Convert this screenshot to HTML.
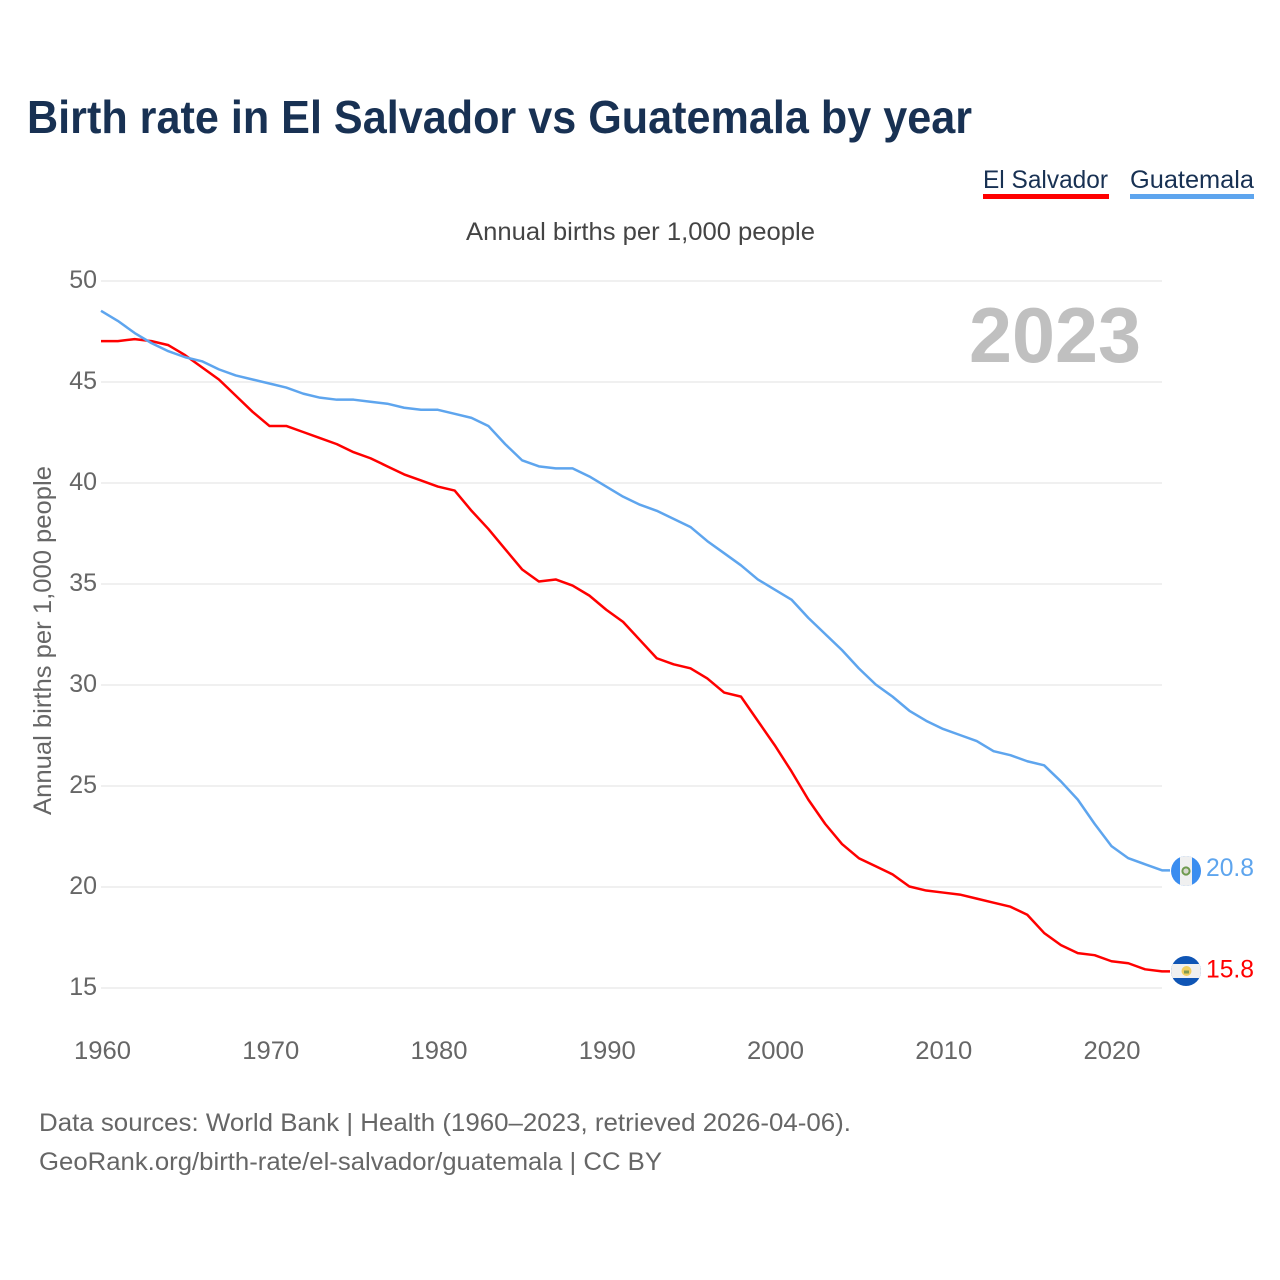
<!DOCTYPE html>
<html lang="en">
<head>
<meta charset="utf-8">
<title>Birth rate in El Salvador vs Guatemala by year</title>
<style>
html,body{margin:0;padding:0;background:#fff;width:1280px;height:1280px;overflow:hidden}
svg{display:block}
text{font-family:"Liberation Sans",sans-serif}
</style>
</head>
<body>
<svg id="chart" width="1280" height="1280" viewBox="0 0 1280 1280" xmlns="http://www.w3.org/2000/svg">
  <defs>
    <clipPath id="flag-clip-gt"><circle cx="1186" cy="871" r="15"/></clipPath>
    <clipPath id="flag-clip-sv"><circle cx="1186" cy="971" r="15"/></clipPath>
  </defs>
  <rect width="1280" height="1280" fill="#fff"/>
  <text x="27" y="133" font-size="46" font-weight="700" fill="#183153" textLength="945" lengthAdjust="spacingAndGlyphs">Birth rate in El Salvador vs Guatemala by year</text>

  <g>
    <g>
      <text x="983" y="188" font-size="25" fill="#183153" textLength="125" lengthAdjust="spacingAndGlyphs">El Salvador</text>
      <rect x="983" y="194" width="126" height="5" fill="#ff0000"/>
    </g>
    <g>
      <text x="1130" y="188" font-size="25" fill="#183153" textLength="124" lengthAdjust="spacingAndGlyphs">Guatemala</text>
      <rect x="1130" y="194" width="124" height="5" fill="#5ea5ee"/>
    </g>
  </g>

  <text x="466" y="240" font-size="25" fill="#444444" textLength="349" lengthAdjust="spacingAndGlyphs">Annual births per 1,000 people</text>
  <text transform="translate(51,815) rotate(-90)" font-size="25" fill="#666666" textLength="349" lengthAdjust="spacingAndGlyphs">Annual births per 1,000 people</text>

  <g id="grid"></g>
  <g id="y-ticks"></g>
  <g id="x-ticks"></g>

  <text id="year-label" x="1141" y="362" text-anchor="end" font-size="78" font-weight="700" fill="#c0c0c0" textLength="172" lengthAdjust="spacingAndGlyphs">2023</text>

  <g id="series" transform="translate(0,-0.5)"></g>

  <g clip-path="url(#flag-clip-gt)">
    <rect x="1170" y="855" width="32" height="32" fill="#3a8df0"/>
    <rect x="1180" y="855" width="12" height="32" fill="#f0f0f0"/>
    <circle cx="1186" cy="871" r="3.6" fill="#d8d8d0" stroke="#6f9a4e" stroke-width="2"/>
  </g>
  <g clip-path="url(#flag-clip-sv)">
    <rect x="1170" y="955" width="32" height="32" fill="#0f55b5"/>
    <rect x="1170" y="964" width="32" height="14" fill="#f0f0f0"/>
    <circle cx="1186.5" cy="971" r="5" fill="#f0cf60"/>
    <rect x="1184" y="970.5" width="5" height="3" fill="#7f9a50"/>
  </g>

  <text id="val-gt" x="1206" y="876" font-size="25" fill="#5ea5ee" textLength="48" lengthAdjust="spacingAndGlyphs"></text>
  <text id="val-sv" x="1206" y="977.5" font-size="25" fill="#ff0000" textLength="48" lengthAdjust="spacingAndGlyphs"></text>

  <text x="39" y="1131" font-size="25" fill="#666666" textLength="812" lengthAdjust="spacingAndGlyphs">Data sources: World Bank | Health (1960–2023, retrieved 2026-04-06).</text>
  <text x="39" y="1170" font-size="25" fill="#666666" textLength="623" lengthAdjust="spacingAndGlyphs">GeoRank.org/birth-rate/el-salvador/guatemala | CC BY</text>
</svg>
<script>
const startYear = 1960;
const elSalvador = [47.0,47.0,47.1,47.0,46.8,46.3,45.7,45.1,44.3,43.5,42.8,42.8,42.5,42.2,41.9,41.5,41.2,40.8,40.4,40.1,39.8,39.6,38.6,37.7,36.7,35.7,35.1,35.2,34.9,34.4,33.7,33.1,32.2,31.3,31.0,30.8,30.3,29.6,29.4,28.2,27.0,25.7,24.3,23.1,22.1,21.4,21.0,20.6,20.0,19.8,19.7,19.6,19.4,19.2,19.0,18.6,17.7,17.1,16.7,16.6,16.3,16.2,15.9,15.8];
const guatemala = [48.5,48.0,47.4,46.9,46.5,46.2,46.0,45.6,45.3,45.1,44.9,44.7,44.4,44.2,44.1,44.1,44.0,43.9,43.7,43.6,43.6,43.4,43.2,42.8,41.9,41.1,40.8,40.7,40.7,40.3,39.8,39.3,38.9,38.6,38.2,37.8,37.1,36.5,35.9,35.2,34.7,34.2,33.3,32.5,31.7,30.8,30.0,29.4,28.7,28.2,27.8,27.5,27.2,26.7,26.5,26.2,26.0,25.2,24.3,23.1,22.0,21.4,21.1,20.8];
const yTickValues = [50,45,40,35,30,25,20,15];
const xTickValues = [1960,1970,1980,1990,2000,2010,2020];

const NS = 'http://www.w3.org/2000/svg';
function xScale(year){ return 101 + (year - 1960) * (1162 - 101) / 63; }
function yScale(v){ return 281 + (50 - v) * (988 - 281) / 35; }
function xLabelPos(year){ return 102.5 + (year - 1960) * 16.825; }
function make(tag, attrs){
  const el = document.createElementNS(NS, tag);
  for (const k in attrs) el.setAttribute(k, attrs[k]);
  return el;
}
const grid = document.getElementById('grid');
const yTicks = document.getElementById('y-ticks');
const xTicks = document.getElementById('x-ticks');
const seriesGroup = document.getElementById('series');

yTickValues.forEach(function(v){
  const line = make('line', {x1:101, x2:1162, y1:yScale(v), y2:yScale(v), stroke:'#f0f0f0', 'stroke-width':2});
  
  
  grid.appendChild(line);
  const t = make('text', {x:97, y:yScale(v)+7, 'text-anchor':'end', 'font-size':25, fill:'#666666'});
  
  
  t.textContent = v;
  yTicks.appendChild(t);
});

xTickValues.forEach(function(y){
  const t = make('text', {x:xLabelPos(y), y:1059, 'text-anchor':'middle', 'font-size':25, fill:'#666666', textLength:57, lengthAdjust:'spacingAndGlyphs'});
  
  
  t.textContent = y;
  xTicks.appendChild(t);
});

function pathFor(values){
  let d = values.map(function(v,i){ return (i ? 'L' : 'M') + xScale(startYear + i).toFixed(2) + ' ' + yScale(v).toFixed(2); }).join(' ');
  d += ' L 1170 ' + yScale(values[values.length - 1]).toFixed(2);
  return d;
}

const lineSv = make('path', {d:pathFor(elSalvador), fill:'none', stroke:'#ff0000', 'stroke-width':2.5, 'stroke-linejoin':'round'});


seriesGroup.appendChild(lineSv);

const lineGt = make('path', {d:pathFor(guatemala), fill:'none', stroke:'#5ea5ee', 'stroke-width':2.5, 'stroke-linejoin':'round'});


seriesGroup.appendChild(lineGt);

document.getElementById('val-gt').textContent = guatemala[guatemala.length - 1].toFixed(1);
document.getElementById('val-sv').textContent = elSalvador[elSalvador.length - 1].toFixed(1);
</script>
</body>
</html>
